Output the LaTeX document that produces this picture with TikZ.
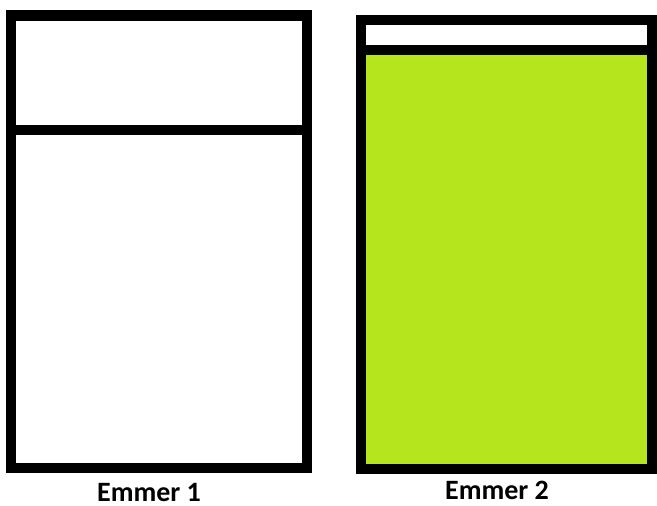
\documentclass[tikz,border=0pt]{standalone}
\usepackage{fontspec}
\setmainfont{Carlito}
\usetikzlibrary{calc}
\definecolor{ink}{HTML}{000000}
\definecolor{lime}{HTML}{B5E61D}

\begin{document}
\begin{tikzpicture}[x=1pt,y=-1pt]
      \useasboundingbox (0,0) rectangle (657,506);

      \coordinate (b1nw) at (11,15.5);
      \coordinate (b1se) at (307,468);
      \coordinate (b2nw) at (361,20);
      \coordinate (b2se) at (652,469);

      % bucket 2 contents
      \fill[lime] (b2nw |- 0,50) rectangle (b2se);

      \draw[line width=10.5pt,color=ink] (b1nw) rectangle (b1se);
      \draw[line width=10.5pt,color=ink] (b1nw |- 0,130) -- (b1se |- 0,130);

      \draw[line width=10.5pt,color=ink] (b2nw) rectangle (b2se);
      \draw[line width=10.5pt,color=ink] (b2nw |- 0,50) -- (b2se |- 0,50);

      \node[anchor=base,font=\fontsize{28}{30}\selectfont\bfseries,inner sep=0pt,text depth=0pt] (lab1) at (149,501) {Emmer 1};
      \node[anchor=base,font=\fontsize{28}{30}\selectfont\bfseries,inner sep=0pt,text depth=0pt] (lab2) at (497,499) {Emmer 2};
    \end{tikzpicture}
\end{document}
